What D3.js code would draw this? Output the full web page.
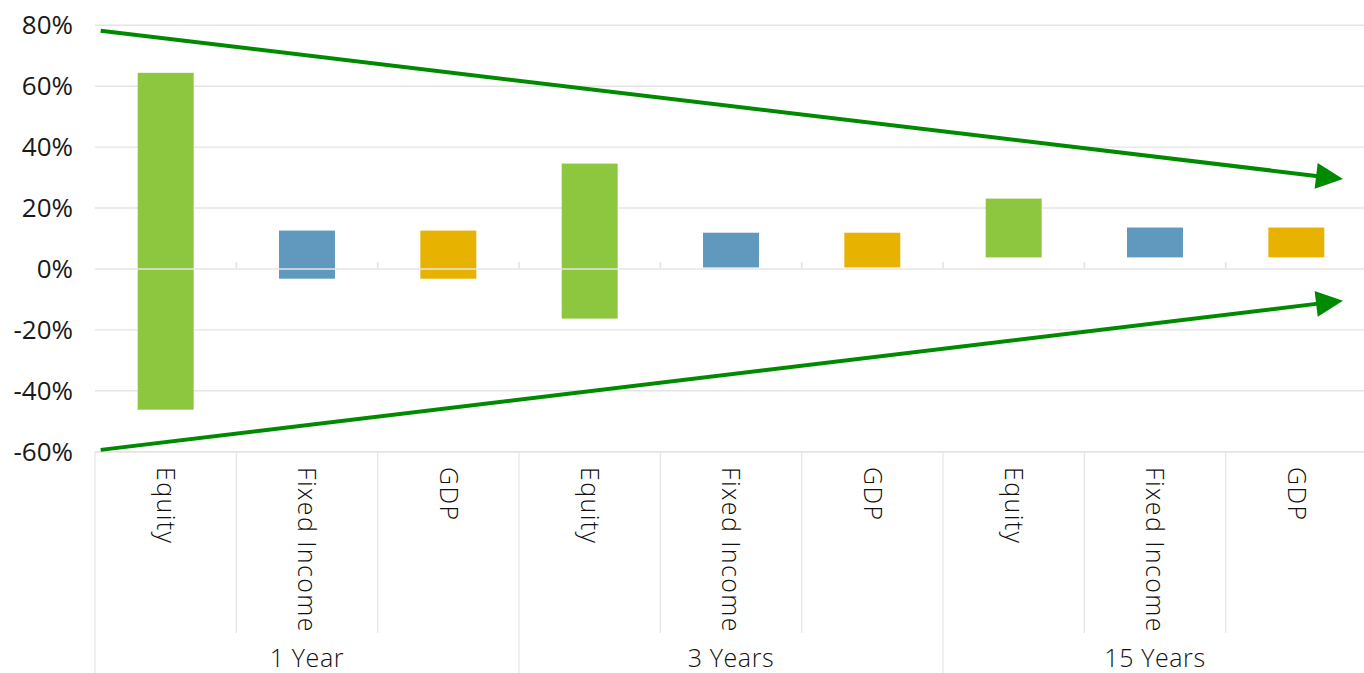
<!DOCTYPE html>
<html>
<head>
<meta charset="utf-8">
<script src="https://cdn.jsdelivr.net/npm/d3@7"></script>
<style>
  html, body { margin: 0; padding: 0; background: #fff; }
  svg { display: block; font-family: "Open Sans", "Noto Sans", sans-serif; font-weight: 300; }
</style>
</head>
<body>
<svg id="chart" width="1364" height="673"></svg>
<script>
// Ranges of annual returns by horizon (low / high, in %)
const horizons = ["1 Year", "3 Years", "15 Years"];
const assets = ["Equity", "Fixed Income", "GDP"];
const equityHigh = [64.4, 34.6, 23.1];
const equityLow = [-46.2, -16.3, 3.8];
const fixedIncomeHigh = [12.6, 11.9, 13.6];
const fixedIncomeLow = [-3.2, 0.5, 3.8];
const gdpHigh = [12.6, 11.9, 13.6];
const gdpLow = [-3.2, 0.5, 3.8];
const yTicks = [-60, -40, -20, 0, 20, 40, 60, 80];
// Funnel arrows: values (%) at the left edge and at the arrow tip
const upperTrend = [78.2, 29.5];
const lowerTrend = [-59.4, -10.4];
const trendSpan = [0.04, 8.83]; // in category-slot units

const colors = { "Equity": "#8DC63F", "Fixed Income": "#6199BE", "GDP": "#E8B200" };

const rows = [];
horizons.forEach((h, i) => {
  rows.push({ key: h + "|Equity", horizon: h, asset: "Equity", low: equityLow[i], high: equityHigh[i] });
  rows.push({ key: h + "|Fixed Income", horizon: h, asset: "Fixed Income", low: fixedIncomeLow[i], high: fixedIncomeHigh[i] });
  rows.push({ key: h + "|GDP", horizon: h, asset: "GDP", low: gdpLow[i], high: gdpHigh[i] });
});

const svg = d3.select("#chart");
const plotLeft = 95, plotRight = 1367, plotTop = 25.3, plotBottom = 451.7;

const x = d3.scaleBand().domain(rows.map(d => d.key)).range([plotLeft, plotRight])
  .paddingInner(0.604).paddingOuter(0.302);
const slot = d3.scaleLinear().domain([0, rows.length]).range([plotLeft, plotRight]);
const y = d3.scaleLinear().domain([-60, 80]).range([plotBottom, plotTop]);

const gridColor = "#e4e4e4";
const textColor = "#111";

// Horizontal gridlines
svg.append("g").selectAll("line").data(yTicks.filter(t => t !== 0)).join("line")
  .attr("x1", plotLeft).attr("x2", 1364)
  .attr("y1", d => y(d)).attr("y2", d => y(d))
  .attr("stroke", gridColor).attr("stroke-width", 1.4);

// Y axis labels
const yAxis = d3.axisLeft(y).tickValues(yTicks).tickFormat(d => d + "%").tickSize(0).tickPadding(0);
const yg = svg.append("g").attr("transform", "translate(73,0)").call(yAxis);
yg.select(".domain").remove();
yg.selectAll("text").attr("font-size", 26).attr("fill", "#1a1a1a")
  .attr("font-family", "'Open Sans', sans-serif").attr("font-weight", 400);

// Floating range bars
svg.append("g").selectAll("rect").data(rows).join("rect")
  .attr("x", d => x(d.key))
  .attr("width", x.bandwidth())
  .attr("y", d => y(d.high))
  .attr("height", d => y(d.low) - y(d.high))
  .attr("fill", d => colors[d.asset]);

// Zero axis line with tick marks at category boundaries
const boundaries = d3.range(0, rows.length + 1).map(i => slot(i));
svg.append("line")
  .attr("x1", plotLeft).attr("x2", 1364)
  .attr("y1", y(0)).attr("y2", y(0))
  .attr("stroke", gridColor).attr("stroke-width", 1.6);
svg.append("g").selectAll("line").data(boundaries.slice(1, -1)).join("line")
  .attr("x1", d => d).attr("x2", d => d)
  .attr("y1", y(0) - 7).attr("y2", y(0))
  .attr("stroke", gridColor).attr("stroke-width", 1.6);

// Category axis: inner separators and group separators
const axisG = svg.append("g");
axisG.append("line").attr("x1", plotLeft).attr("x2", 1364)
  .attr("y1", plotBottom).attr("y2", plotBottom)
  .attr("stroke", gridColor).attr("stroke-width", 1.4);
axisG.selectAll("line.sep").data(d3.range(0, rows.length + 1)).join("line")
  .attr("class", "sep")
  .attr("x1", i => slot(i)).attr("x2", i => slot(i))
  .attr("y1", plotBottom)
  .attr("y2", i => (i % 3 === 0 ? 673 : 633))
  .attr("stroke", gridColor).attr("stroke-width", 1.2);

// Rotated asset labels
axisG.selectAll("text.asset").data(rows).join("text")
  .attr("class", "asset")
  .attr("transform", d => `translate(${x(d.key) + x.bandwidth() / 2},467) rotate(90)`)
  .attr("dy", "0.35em")
  .attr("font-size", 25).attr("fill", textColor)
  .attr("letter-spacing", 1.4)
  .text(d => d.asset);

// Horizon labels
axisG.selectAll("text.horizon").data(horizons).join("text")
  .attr("class", "horizon")
  .attr("x", (h, i) => (slot(i * 3) + slot(i * 3 + 3)) / 2)
  .attr("y", 667)
  .attr("text-anchor", "middle")
  .attr("font-size", 25).attr("fill", textColor)
  .attr("letter-spacing", 0.6)
  .text(h => h);

// Funnel arrows
const arrowColor = "#008A00";
function arrow(vals) {
  const x0 = slot(trendSpan[0]), y0 = y(vals[0]);
  const x1 = slot(trendSpan[1]), y1 = y(vals[1]);
  const ang = Math.atan2(y1 - y0, x1 - x0);
  const headLen = 27, headHalf = 13;
  const bx = x1 - headLen * Math.cos(ang), by = y1 - headLen * Math.sin(ang);
  svg.append("line")
    .attr("x1", x0).attr("y1", y0)
    .attr("x2", bx + 2 * Math.cos(ang)).attr("y2", by + 2 * Math.sin(ang))
    .attr("stroke", arrowColor).attr("stroke-width", 4);
  const px = -Math.sin(ang), py = Math.cos(ang);
  svg.append("path")
    .attr("d", d3.line()([
      [x1, y1],
      [bx + headHalf * px, by + headHalf * py],
      [bx - headHalf * px, by - headHalf * py]
    ]) + "Z")
    .attr("fill", arrowColor);
}
arrow(upperTrend);
arrow(lowerTrend);
</script>
</body>
</html>
